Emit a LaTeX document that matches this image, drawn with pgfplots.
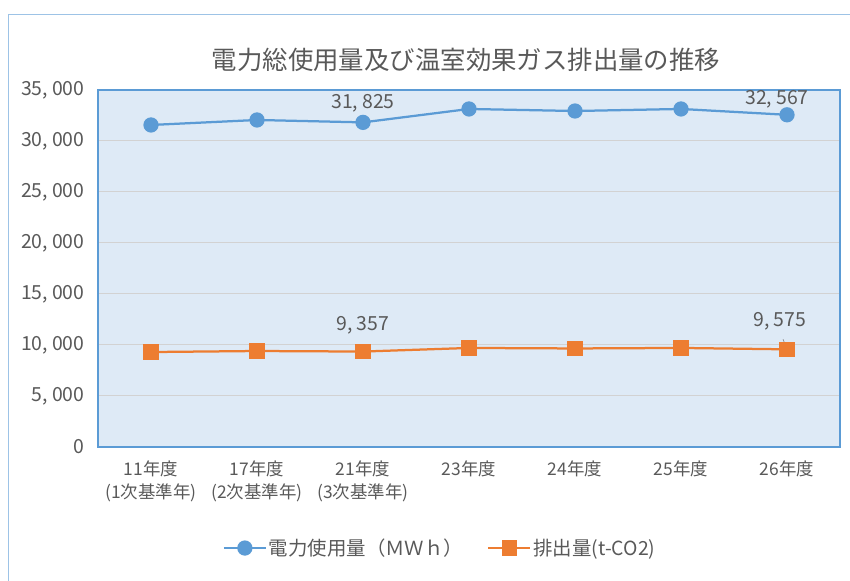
\documentclass[border=0pt]{standalone}
\usepackage{fontspec}
\setmainfont{Noto Sans CJK JP}
\usepackage{pgfplots}
\pgfplotsset{compat=1.18}
\definecolor{sblue}{RGB}{91,155,213}
\definecolor{sorange}{RGB}{237,125,49}
\definecolor{bgblue}{RGB}{222,234,246}
\definecolor{framec}{RGB}{157,195,230}
\definecolor{txt}{RGB}{89,89,89}
\definecolor{gridc}{RGB}{210,210,210}
\begin{document}
\begin{tikzpicture}[x=1bp,y=1bp]
\path[use as bounding box] (0,0) rectangle (850,581);
\draw[framec, line width=1.2bp] (8.5,0) -- (8.5,566.5) -- (850,566.5);
\node[txt, font=\fontsize{25.5}{30}\selectfont] at (466,521) {電力総使用量及び温室効果ガス排出量の推移};
\begin{axis}[at={(98bp,134bp)}, anchor=south west, scale only axis,
  width=742bp, height=357bp,
  xmin=-0.5, xmax=6.5, ymin=0, ymax=35000,
  axis background/.style={fill=bgblue},
  axis line style={sblue, line width=1.5bp},
  ymajorgrids, grid style={gridc, line width=1bp},
  ytick={0,5000,...,35000},
  xtick={0,...,6},
  xticklabels={{11年度\\(1次基準年)},{17年度\\(2次基準年)},{21年度\\(3次基準年)},23年度,24年度,25年度,26年度},
  xticklabel style={align=center, font=\fontsize{17.5}{23.5}\selectfont, text=txt, anchor=north, yshift=-10bp},
  yticklabel style={font=\fontsize{19.5}{22}\selectfont, text=txt, xshift=-10bp},
  major tick length=0pt,
  scaled y ticks=false,
  /pgf/number format/assume math mode=true,
  /pgf/number format/1000 sep={,\hspace{4bp}},
  legend style={at={(0.461,-0.283)}, anchor=center, draw=none, fill=none,
    legend columns=2, font=\fontsize{19.5}{22}\selectfont, text=txt,
    /tikz/every even column/.append style={column sep=22bp}},
  legend image code/.code={
    \draw[#1, mark repeat=2, mark phase=2] plot coordinates {(0bp,0bp) (21bp,0bp) (42bp,0bp)};},
]
\addplot[sblue, line width=2.25bp, mark=*, mark size=6.5bp, mark options={fill=sblue, draw=sblue}]
  coordinates {(0,31570) (1,32060) (2,31825) (3,33140) (4,32940) (5,33140) (6,32567)};
\addlegendentry{電力使用量（ＭＷｈ）}
\addplot[sorange, line width=2.25bp, mark=square*, mark size=6.5bp, mark options={fill=sorange, draw=sorange}]
  coordinates {(0,9310) (1,9410) (2,9357) (3,9710) (4,9660) (5,9710) (6,9575)};
\addlegendentry{排出量(t-CO2)}
\node[txt, font=\fontsize{19.5}{22}\selectfont] at (axis cs:2,31825) [yshift=19bp] {31,\hspace{4bp}825};
\node[txt, font=\fontsize{19.5}{22}\selectfont] at (axis cs:6,32567) [xshift=-10bp, yshift=16bp] {32,\hspace{4bp}567};
\node[txt, font=\fontsize{19.5}{22}\selectfont] at (axis cs:2,9357) [yshift=26bp] {9,\hspace{4bp}357};
\node[txt, font=\fontsize{19.5}{22}\selectfont] at (axis cs:6,9575) [xshift=-7bp, yshift=28bp] {9,\hspace{4bp}575};
\draw[gray, line width=0.6bp] (axis cs:6,9575) ++(-4bp,10bp) -- ++(3bp,-7bp);
\end{axis}
\end{tikzpicture}
\end{document}
